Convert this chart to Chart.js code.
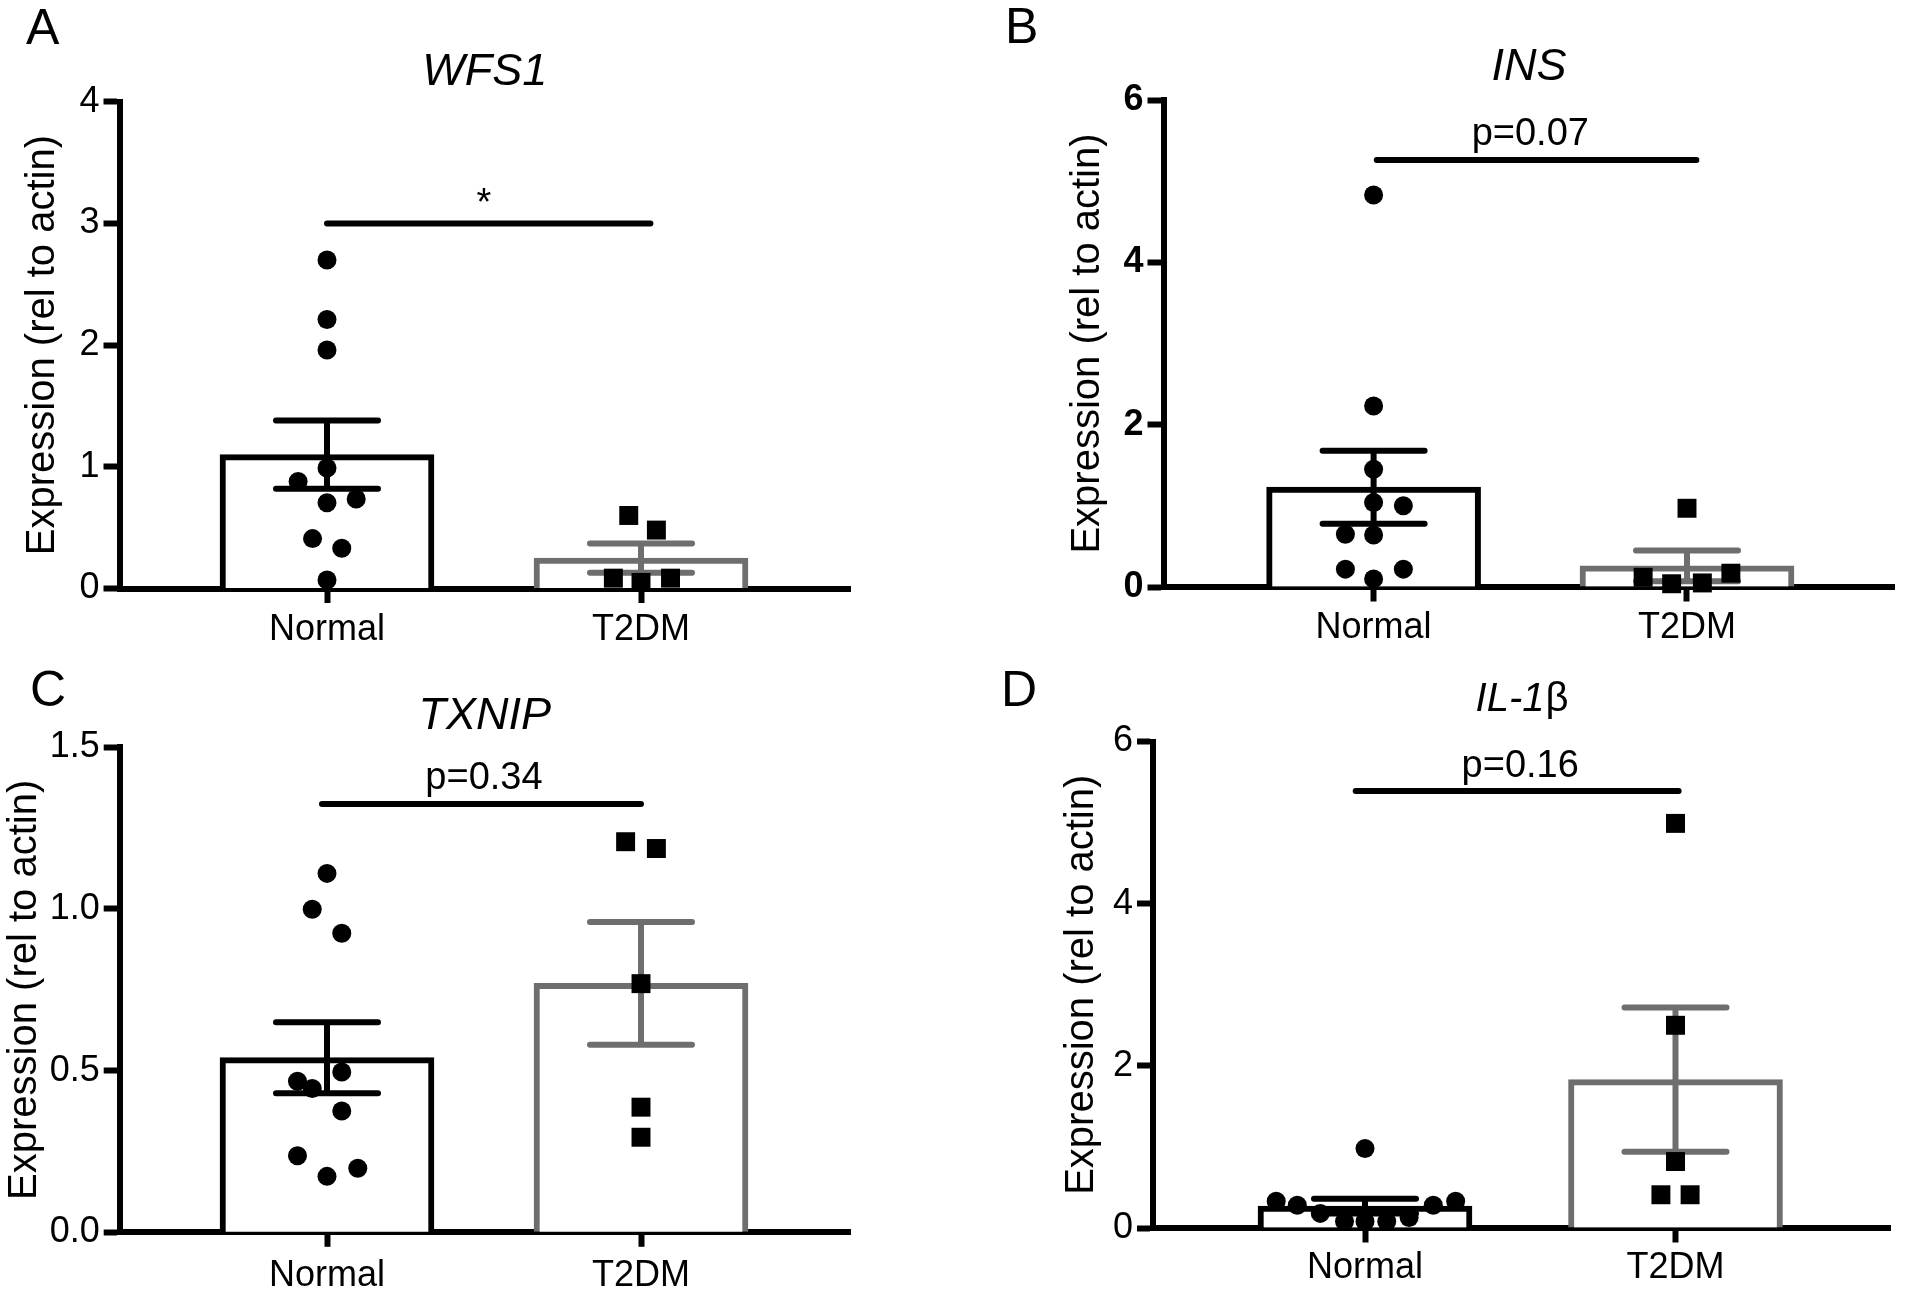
<!DOCTYPE html>
<html><head><meta charset="utf-8">
<script src="https://cdn.jsdelivr.net/npm/chart.js@4.4.1/dist/chart.umd.min.js"></script>
<style>
html,body{margin:0;padding:0;background:#fff;}
#wrap{position:relative;width:1908px;height:1296px;background:#fff;}
.panel{position:absolute;width:954px;height:648px;}
</style></head><body>
<div id="wrap">
<div class="panel" style="left:0;top:0"><canvas id="c0" width="954" height="648"></canvas></div>
<div class="panel" style="left:954px;top:0"><canvas id="c1" width="954" height="648"></canvas></div>
<div class="panel" style="left:0;top:648px"><canvas id="c2" width="954" height="648"></canvas></div>
<div class="panel" style="left:954px;top:648px"><canvas id="c3" width="954" height="648"></canvas></div>
</div>
<script>
// ---------- DATA ----------
const categories = ['Normal', 'T2DM'];
const panelLetters = ['A', 'B', 'C', 'D'];
const geneNames = ['WFS1', 'INS', 'TXNIP', 'IL-1β'];
const pLabels = ['*', 'p=0.07', 'p=0.34', 'p=0.16'];
const sigLineValues = [3.0, 5.26, 1.325, 5.39];
const yAxisMax = [4, 6, 1.5, 6];
const yAxisStep = [1, 2, 0.5, 2];
const yTickDecimals = [0, 0, 1, 0];

const meanNormal = [1.10, 1.23, 0.54, 0.27];
const semNormal  = [0.28, 0.45, 0.11, 0.09];
const meanT2DM   = [0.25, 0.26, 0.77, 1.83];
const semT2DM    = [0.12, 0.19, 0.19, 0.89];

// individual samples (value) and horizontal jitter (category units)
const wfs1Normal       = [2.70, 2.21, 1.96, 0.99, 0.88, 0.705, 0.735, 0.41, 0.33, 0.07];
const wfs1NormalJitter = [0, 0, 0, 0, -0.092, 0, 0.093, -0.046, 0.047, 0];
const wfs1T2DM         = [0.60, 0.48, 0.085, 0.05, 0.085];
const wfs1T2DMJitter   = [-0.039, 0.049, -0.088, 0, 0.094];

const insNormal        = [4.83, 2.23, 1.45, 1.04, 1.00, 0.65, 0.64, 0.22, 0.22, 0.10];
const insNormalJitter  = [0, 0, 0, 0, 0.095, -0.09, 0, -0.09, 0.095, 0];
const insT2DM          = [0.97, 0.12, 0.04, 0.05, 0.17];
const insT2DMJitter    = [0, -0.14, -0.049, 0.049, 0.14];

const txnipNormal       = [1.11, 0.999, 0.925, 0.496, 0.467, 0.445, 0.375, 0.237, 0.173, 0.198];
const txnipNormalJitter = [0, -0.047, 0.047, 0.047, -0.094, -0.047, 0.047, -0.094, 0, 0.098];
const txnipT2DM         = [1.208, 1.187, 0.769, 0.387, 0.294];
const txnipT2DMJitter   = [-0.049, 0.049, 0, 0, 0];

const il1bNormal       = [0.98, 0.33, 0.28, 0.28, 0.33, 0.18, 0.08, 0.08, 0.08, 0.13];
const il1bNormalJitter = [0, -0.286, -0.218, 0.22, 0.292, -0.144, -0.066, 0, 0.07, 0.142];
const il1bT2DM         = [4.99, 2.50, 0.82, 0.41, 0.41];
const il1bT2DMJitter   = [0, 0, 0, -0.047, 0.047];

const normalSamples = [wfs1Normal, insNormal, txnipNormal, il1bNormal];
const normalJitters = [wfs1NormalJitter, insNormalJitter, txnipNormalJitter, il1bNormalJitter];
const t2dmSamples = [wfs1T2DM, insT2DM, txnipT2DM, il1bT2DM];
const t2dmJitters = [wfs1T2DMJitter, insT2DMJitter, txnipT2DMJitter, il1bT2DMJitter];

// ---------- LAYOUT / STYLE (canvas-relative pixels) ----------
const FONT = "'Liberation Sans', Arial, Helvetica, sans-serif";
const BLACK = '#000000';
const GRAY = '#6e6e6e';
const layout = [
  {axisX:119.5, top:101.7, bottom:588.5, right:850, normalPx:327, t2dmPx:641, yTitleMid:42.7, xPad:5,
   letterX:26, letterY:44, titleY:85, titleSize:45, tickBold:false, sigGap:8, sigFrom:0, sigTo:1.03},
  {axisX:209.5, top:100, bottom:587, right:942, normalPx:420, t2dmPx:734, yTitleMid:133.7, xPad:5,
   letterX:51, letterY:43, titleY:80, titleSize:45, tickBold:true, sigGap:15, sigFrom:0.01, sigTo:1.03},
  {axisX:119.7, top:99.3, bottom:584.3, right:850, normalPx:327, t2dmPx:641, yTitleMid:24.7, xPad:8,
   letterX:30, letterY:58, titleY:81, titleSize:45, tickBold:false, sigGap:15, sigFrom:-0.016, sigTo:1.0},
  {axisX:199, top:93.5, bottom:580, right:936, normalPx:411, t2dmPx:721.5, yTitleMid:128, xPad:4,
   letterX:47, letterY:58, titleY:63, titleSize:40, tickBold:false, sigGap:14, sigFrom:-0.03, sigTo:1.01}
];

const annotPlugin = {
  id: 'annot',
  afterDatasetDraw(chart, args, o) {
    if (args.index !== 2) return;
    const ctx = chart.ctx, xs = chart.scales.x, ys = chart.scales.y;
    ctx.save();
    ctx.lineWidth = 6;
    o.means.forEach((m, i) => {
      const s = o.sems[i];
      const px = xs.getPixelForValue(i);
      const pTop = ys.getPixelForValue(m + s), pBot = ys.getPixelForValue(Math.max(m - s, 0));
      const hw = 51;
      ctx.strokeStyle = o.colors[i];
      ctx.lineCap = 'butt';
      ctx.beginPath(); ctx.moveTo(px, pTop); ctx.lineTo(px, pBot); ctx.stroke();
      ctx.lineCap = 'round';
      ctx.beginPath();
      ctx.moveTo(px - hw, pTop); ctx.lineTo(px + hw, pTop);
      ctx.moveTo(px - hw, pBot); ctx.lineTo(px + hw, pBot);
      ctx.stroke();
    });
    ctx.restore();
  },
  afterDraw(chart, args, o) {
    const ctx = chart.ctx, xs = chart.scales.x, ys = chart.scales.y, ca = chart.chartArea;
    const L = o.layout;
    ctx.save();
    ctx.fillStyle = BLACK;
    // panel letter
    ctx.font = '50px ' + FONT;
    ctx.textAlign = 'left'; ctx.textBaseline = 'alphabetic';
    ctx.fillText(o.letter, L.letterX, L.letterY);
    // gene title (italic, greek letters upright)
    const cx = (ca.left + ca.right) / 2;
    const m = o.title.match(/^([^\u0370-\u03ff]*)([\u0370-\u03ff]*)$/);
    const it = m ? m[1] : o.title, up = m ? m[2] : '';
    ctx.font = 'italic ' + L.titleSize + 'px ' + FONT;
    const w1 = ctx.measureText(it).width;
    ctx.font = L.titleSize + 'px ' + FONT;
    const w2 = up ? ctx.measureText(up).width : 0;
    let sx = cx - (w1 + w2) / 2;
    ctx.font = 'italic ' + L.titleSize + 'px ' + FONT;
    ctx.fillText(it, sx, L.titleY);
    if (up) { ctx.font = L.titleSize + 'px ' + FONT; ctx.fillText(up, sx + w1 + 1, L.titleY); }
    // significance bar
    const yPx = ys.getPixelForValue(o.sigY);
    ctx.strokeStyle = BLACK; ctx.lineWidth = 6; ctx.lineCap = 'round';
    ctx.beginPath();
    ctx.moveTo(xs.getPixelForValue(L.sigFrom), yPx);
    ctx.lineTo(xs.getPixelForValue(L.sigTo), yPx);
    ctx.stroke();
    ctx.font = '38px ' + FONT; ctx.textAlign = 'center';
    ctx.fillText(o.pLabel, xs.getPixelForValue(0.5), yPx - L.sigGap);
    ctx.restore();
  }
};

function makePanel(i) {
  const L = layout[i];
  const spacing = L.t2dmPx - L.normalPx;
  const xMin = (L.axisX - L.normalPx) / spacing;
  const xMax = (L.right - L.normalPx) / spacing;
  const titleLine = 40 * 1.2;
  const padLeft = L.yTitleMid - titleLine / 2;
  const yWidth = L.axisX - padLeft;
  const xHeight = 60;
  const tickFont = {family: FONT, size: 36, weight: L.tickBold ? 'bold' : 'normal'};

  const normalPts = normalSamples[i].map((v, k) => ({x: 0 + normalJitters[i][k], y: v}));
  const t2dmPts = t2dmSamples[i].map((v, k) => ({x: 1 + t2dmJitters[i][k], y: v}));

  new Chart(document.getElementById('c' + i), {
    type: 'scatter',
    data: {
      datasets: [
        {label: categories[0], data: normalPts, pointStyle: 'circle', pointRadius: 9.5,
         backgroundColor: BLACK, borderWidth: 0, clip: false},
        {label: categories[1], data: t2dmPts, pointStyle: 'rect', pointRadius: 13.4,
         backgroundColor: BLACK, borderWidth: 0, clip: false},
        {type: 'bar', label: 'mean', data: [{x: 0, y: meanNormal[i]}, {x: 1, y: meanT2DM[i]}],
         backgroundColor: '#ffffff', borderColor: [BLACK, GRAY], borderWidth: 6,
         borderSkipped: 'start', barThickness: 214}
      ]
    },
    options: {
      responsive: false, animation: false, devicePixelRatio: 1,
      layout: {padding: {left: padLeft, top: L.top, right: 954 - L.right, bottom: 648 - L.bottom - xHeight}},
      plugins: {
        legend: {display: false}, tooltip: {enabled: false},
        annot: {letter: panelLetters[i], title: geneNames[i], pLabel: pLabels[i], sigY: sigLineValues[i],
                means: [meanNormal[i], meanT2DM[i]], sems: [semNormal[i], semT2DM[i]],
                colors: [BLACK, GRAY], layout: L}
      },
      scales: {
        x: {
          type: 'linear', min: xMin, max: xMax, offset: false,
          afterFit: s => { s.height = xHeight; },
          ticks: {stepSize: 1, includeBounds: false, maxRotation: 0, color: BLACK,
                  callback: v => (Number.isInteger(v) && categories[v] !== undefined) ? categories[v] : null,
                  font: {family: FONT, size: 36}, padding: L.xPad},
          grid: {offset: false, drawOnChartArea: false, tickLength: 14.5, tickWidth: 6, tickColor: BLACK},
          border: {display: true, width: 6, color: BLACK}
        },
        y: {
          type: 'linear', min: 0, max: yAxisMax[i],
          afterFit: s => { s.width = yWidth; },
          ticks: {stepSize: yAxisStep[i], color: BLACK, font: tickFont, padding: 4,
                  callback: v => Number(v).toFixed(yTickDecimals[i])},
          grid: {offset: false, drawOnChartArea: false, tickLength: 16, tickWidth: 6, tickColor: BLACK},
          border: {display: true, width: 6, color: BLACK},
          title: {display: true, text: 'Expression (rel to actin)', color: BLACK,
                  font: {family: FONT, size: 40}, padding: 0}
        }
      }
    },
    plugins: [annotPlugin]
  });
}
[0, 1, 2, 3].forEach(makePanel);
</script>
</body></html>
